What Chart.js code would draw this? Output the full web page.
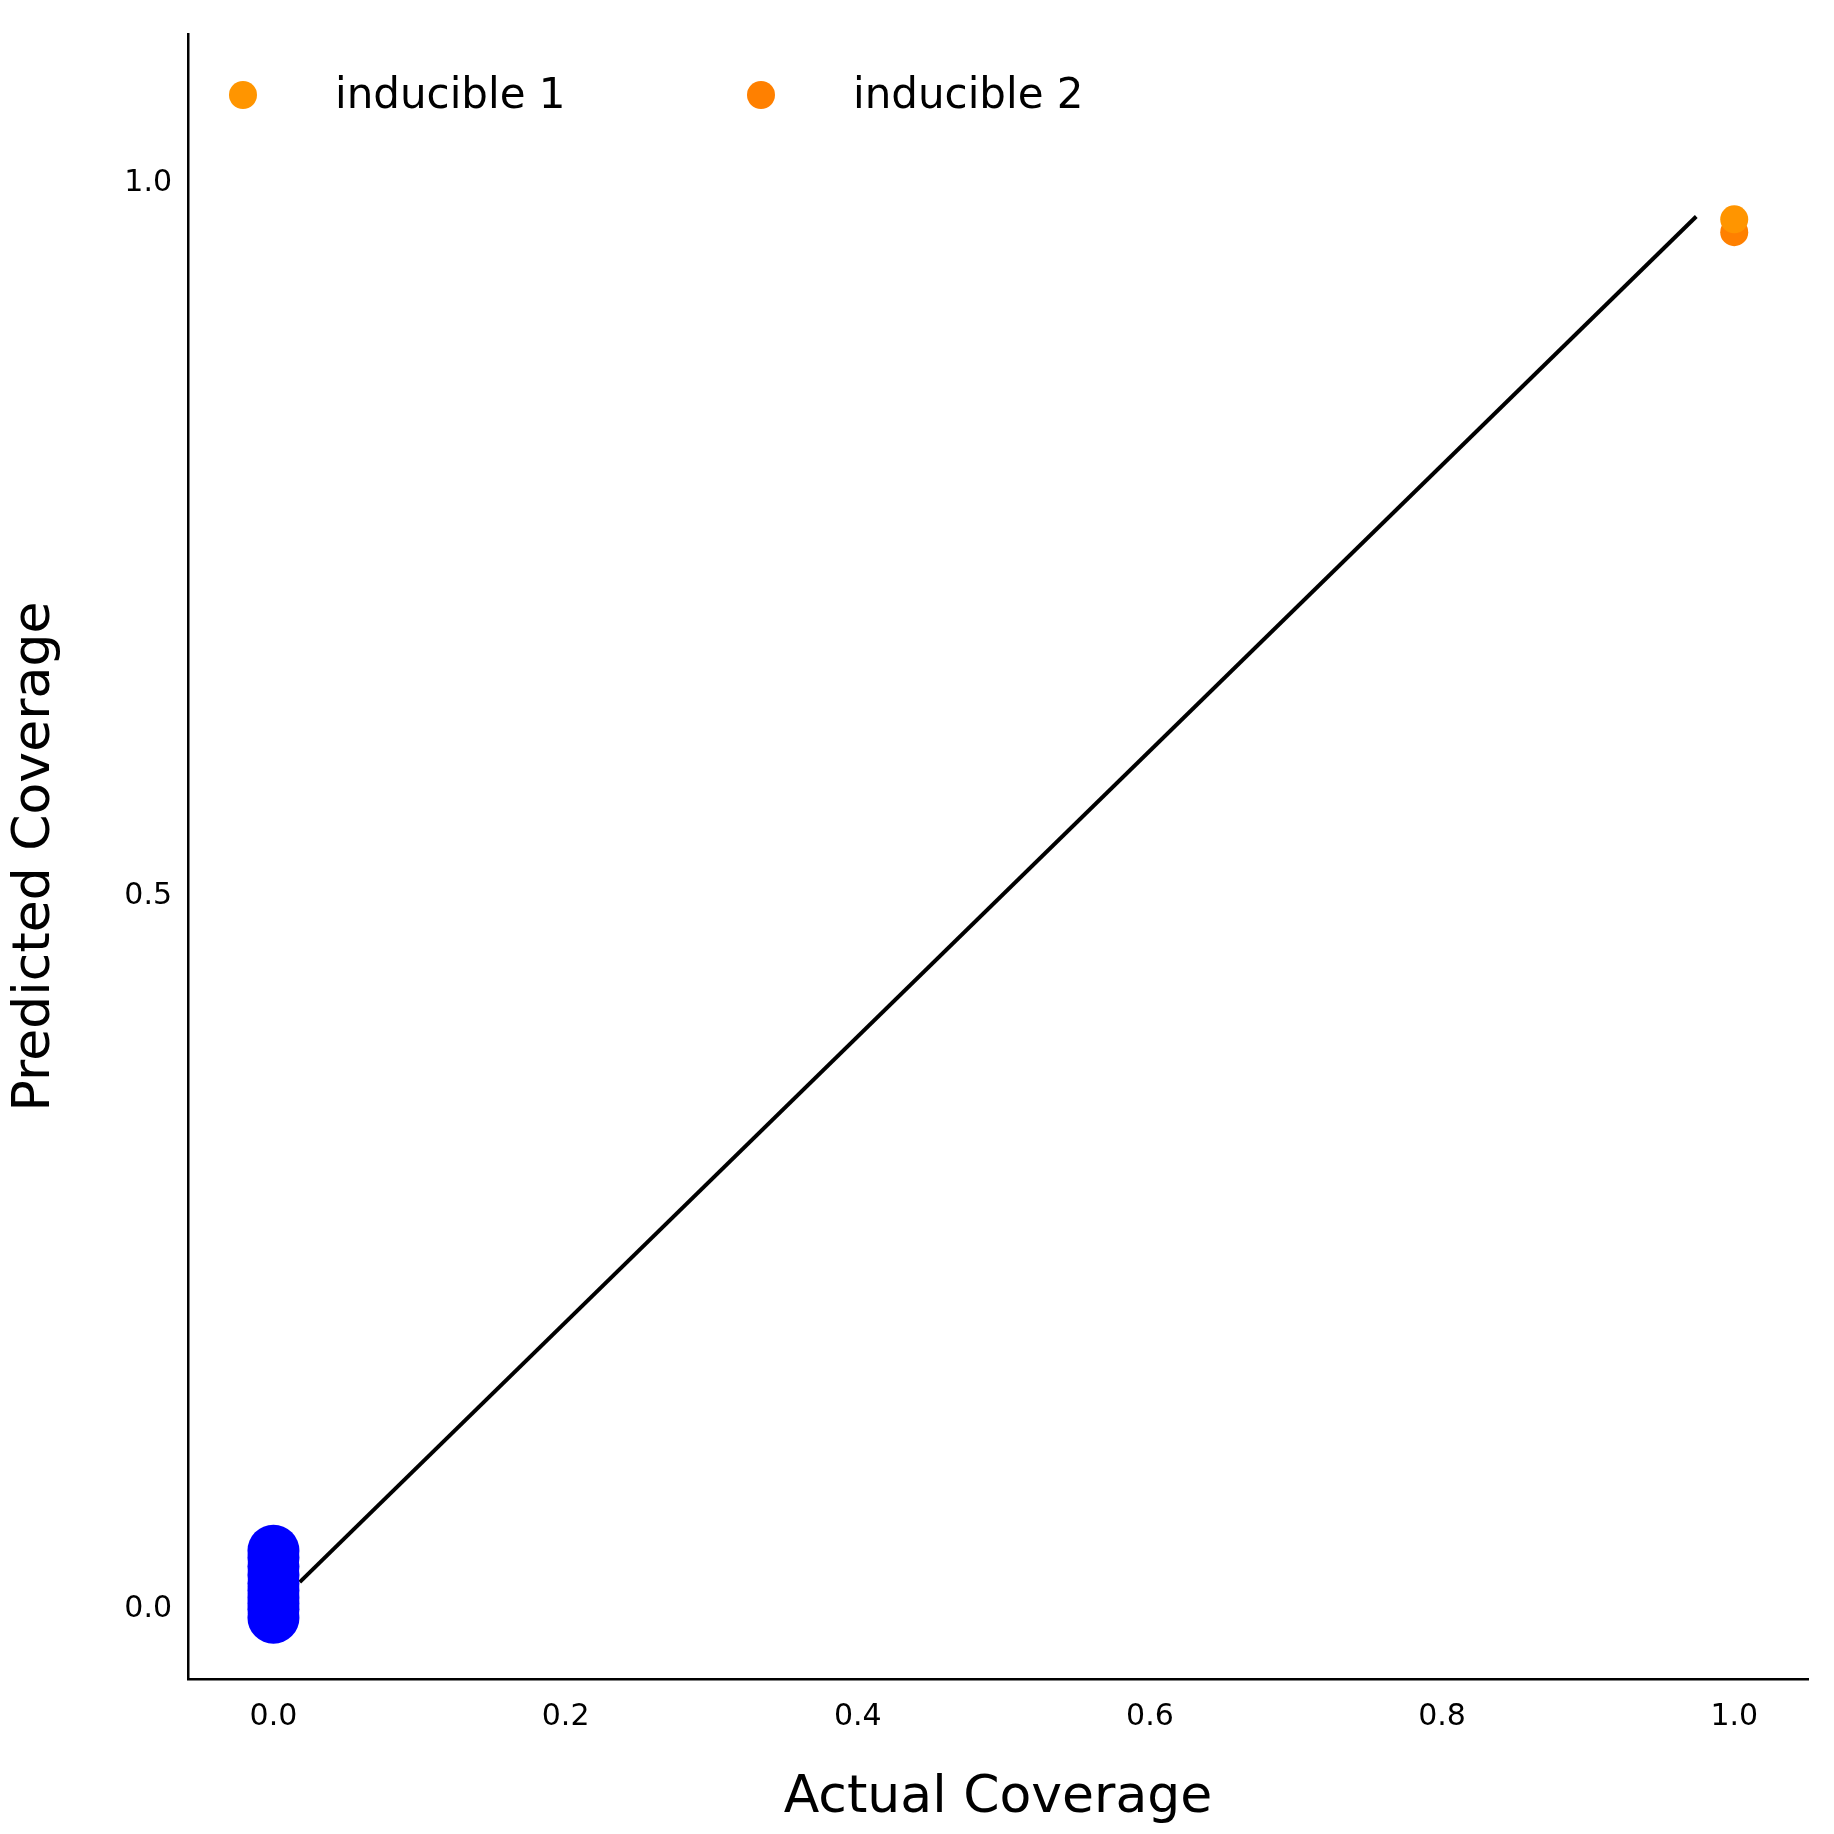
<!DOCTYPE html>
<html><head>
<script src="https://cdn.jsdelivr.net/npm/chart.js@4"></script>
<style>body{margin:0;background:#fff}#wrap{width:1834px;height:1834px}</style>
</head><body><div id="wrap"><canvas id="c"></canvas></div>
<script>
// constitutive points near zero, inducible near one
const constX = [0, 0, 0, 0, 0, 0, 0, 0, 0, 0];
const constY = [-0.006, 0.0, 0.004, 0.008, 0.013, 0.018, 0.024, 0.03, 0.036, 0.041];
const ind1 = { x: [1.0], y: [0.975] };
const ind2 = { x: [1.0], y: [0.966] };
const lineX = [0.018, 0.974];
const lineY = [0.019, 0.977];
const xTicks = [0, 0.2, 0.4, 0.6, 0.8, 1.0];
const yTicks = [0, 0.5, 1.0];

const pts = (xs, ys) => xs.map((x, i) => ({ x: x, y: ys[i] }));
const font = 'DejaVu Sans';

const legendPlugin = {
  id: 'innerLegend',
  afterDraw(chart) {
    const c = chart.ctx;
    const items = [[chart.data.datasets[1], 243], [chart.data.datasets[2], 761]];
    c.save();
    c.font = '42px ' + font;
    c.textBaseline = 'middle';
    items.forEach(([ds, x]) => {
      c.fillStyle = ds.backgroundColor;
      c.beginPath(); c.arc(x, 95, 14, 0, Math.PI * 2); c.fill();
      c.fillStyle = '#000';
      c.fillText(ds.label, x + 92, 97);
    });
    c.restore();
  }
};

new Chart(document.getElementById('c'), {
  type: 'scatter',
  data: {
    datasets: [
      { label: 'line', type: 'line', data: pts(lineX, lineY), borderColor: '#000', borderWidth: 4, pointRadius: 0, order: 3 },
      { label: 'inducible 1', data: pts(ind1.x, ind1.y), backgroundColor: '#ff9500', borderWidth: 0, pointRadius: 14, order: 1 },
      { label: 'inducible 2', data: pts(ind2.x, ind2.y), backgroundColor: '#ff8000', borderWidth: 0, pointRadius: 14, order: 1 },
      { label: 'constitutive', data: pts(constX, constY), backgroundColor: '#0000ff', borderWidth: 0, pointRadius: 26, order: 2 }
    ]
  },
  options: {
    responsive: true, maintainAspectRatio: false, animation: false,
    layout: { padding: { top: 26, right: 19, left: 0, bottom: 0 } },
    plugins: { legend: { display: false }, tooltip: { enabled: false } },
    scales: {
      x: {
        type: 'linear', min: -0.0585, max: 1.0505,
        afterBuildTicks: a => { a.ticks = xTicks.map(v => ({ value: v })); },
        afterFit: a => { a.height = 155; },
        grid: { display: false, drawTicks: false },
        border: { color: '#000', width: 2.5 },
        ticks: { color: '#000', font: { size: 30, family: font }, padding: 20, callback: v => v.toFixed(1), maxRotation: 0 },
        title: { display: true, text: 'Actual Coverage', color: '#000', font: { size: 52, family: font }, padding: { top: 8 } }
      },
      y: {
        type: 'linear', min: -0.049, max: 1.105,
        afterBuildTicks: a => { a.ticks = yTicks.map(v => ({ value: v })); },
        afterFit: a => { a.width = 188; },
        grid: { display: false, drawTicks: false },
        border: { color: '#000', width: 2.5 },
        ticks: { color: '#000', font: { size: 30, family: font }, padding: 16, callback: v => v.toFixed(1) },
        title: { display: true, text: 'Predicted Coverage', color: '#000', font: { size: 52, family: font }, padding: { bottom: 30 } }
      }
    }
  },
  plugins: [legendPlugin]
});
</script></body></html>
